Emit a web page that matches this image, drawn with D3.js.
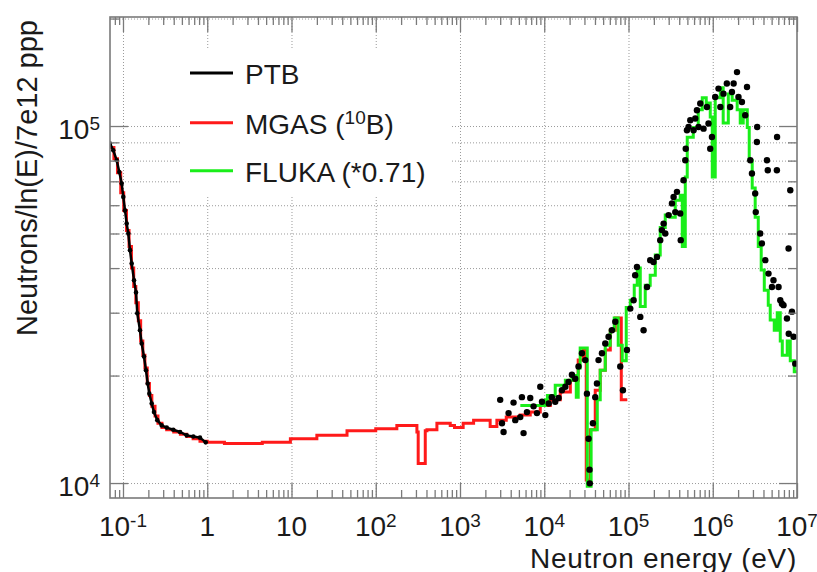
<!DOCTYPE html>
<html>
<head>
<meta charset="utf-8">
<script src="https://cdn.jsdelivr.net/npm/d3@7"></script>
<style>
body { margin: 0; background: #fff; }
text { font-family: "Liberation Sans", Arial, sans-serif; fill: #1a1a1a; }
</style>
</head>
<body>
<svg id="chart"></svg>
<script>
"use strict";

var width  = 817,
    height = 572;

// PTB measurement, thermal part (line + markers)
var ptbLow = [
  [0.0701, 8.93e4], [0.0767, 8.55e4], [0.0842, 8.02e4], [0.0904, 7.43e4], [0.0965, 6.90e4],
  [0.1008, 6.33e4], [0.1056, 5.81e4], [0.1106, 5.33e4], [0.1156, 5.00e4], [0.1211, 4.49e4],
  [0.1268, 4.12e4], [0.1351, 3.70e4], [0.1427, 3.42e4], [0.1478, 2.99e4], [0.159, 2.68e4],
  [0.1667, 2.46e4], [0.1775, 2.26e4], [0.1875, 2.07e4], [0.1965, 1.90e4], [0.2053, 1.78e4],
  [0.2192, 1.67e4], [0.2333, 1.58e4], [0.2553, 1.50e4], [0.288, 1.45e4], [0.330, 1.43e4],
  [0.395, 1.41e4], [0.475, 1.39e4], [0.570, 1.36e4], [0.683, 1.35e4], [0.820, 1.34e4],
  [0.959, 1.30e4]
];

// PTB measurement, fast part (markers)
var ptbHigh = [
  [3.00e3, 1.71e4], [3.15e3, 1.47e4], [3.29e3, 1.39e4], [3.77e3, 1.57e4], [4.32e3, 1.68e4],
  [4.53e3, 1.50e4], [5.19e3, 1.53e4], [5.43e3, 1.74e4], [5.68e3, 1.38e4], [6.23e3, 1.58e4],
  [6.82e3, 1.73e4], [7.47e3, 1.64e4], [8.19e3, 1.57e4], [8.97e3, 1.86e4], [9.40e3, 1.69e4],
  [1.03e4, 1.55e4], [1.13e4, 1.67e4], [1.23e4, 1.74e4], [1.35e4, 1.69e4], [1.48e4, 1.73e4],
  [1.62e4, 1.82e4], [1.78e4, 1.86e4], [1.94e4, 1.92e4], [2.13e4, 2.01e4], [2.33e4, 1.96e4],
  [2.55e4, 2.12e4], [2.80e4, 2.31e4], [3.07e4, 2.21e4], [3.21e4, 1.78e4], [3.36e4, 1.33e4],
  [3.45e4, 1.09e4], [3.47e4, 9.98e3], [3.78e4, 1.47e4], [4.03e4, 1.74e4], [4.22e4, 1.90e4],
  [4.41e4, 2.21e4], [4.84e4, 2.31e4], [5.30e4, 2.46e4], [5.80e4, 2.57e4], [6.36e4, 2.68e4],
  [6.97e4, 2.83e4], [7.98e4, 2.12e4], [8.59e4, 1.82e4], [9.59e4, 2.36e4], [1.05e5, 3.08e4],
  [1.15e5, 3.25e4], [1.20e5, 3.82e4], [1.26e5, 4.03e4], [1.38e5, 2.92e4], [1.51e5, 2.68e4],
  [1.66e5, 3.54e4], [1.81e5, 4.21e4], [1.98e5, 4.16e4], [2.18e5, 4.30e4], [2.38e5, 4.79e4],
  [2.49e5, 5.11e4], [2.61e5, 5.33e4], [2.73e5, 5.00e4], [2.99e5, 5.63e4], [3.28e5, 6.07e4],
  [3.43e5, 6.33e4], [3.59e5, 5.74e4], [3.76e5, 6.54e4], [4.11e5, 5.69e4], [4.17e5, 4.79e4],
  [4.50e5, 7.05e4], [4.72e5, 8.02e4], [4.78e5, 8.64e4], [4.94e5, 9.73e4], [5.16e5, 9.94e4],
  [5.41e5, 1.038e5], [5.92e5, 9.73e4], [6.20e5, 1.05e5], [6.49e5, 1.107e5], [6.78e5, 9.94e4],
  [7.11e5, 1.156e5], [7.78e5, 9.83e4], [8.53e5, 1.13e5], [8.91e5, 1.016e5], [9.33e5, 8.64e4],
  [9.78e5, 9.32e4], [1.07e6, 1.206e5], [1.17e6, 1.273e5], [1.23e6, 1.13e5], [1.34e6, 1.232e5],
  [1.47e6, 1.315e5], [1.61e6, 1.13e5], [1.69e6, 1.245e5], [1.77e6, 1.315e5], [1.94e6, 1.416e5],
  [2.02e6, 1.206e5], [2.22e6, 1.168e5], [2.43e6, 1.072e5], [2.55e6, 1.286e5], [2.79e6, 8.02e4],
  [2.92e6, 7.36e4], [3.19e6, 6.47e4], [3.24e6, 5.74e4], [3.34e6, 9.02e4], [3.37e6, 9.94e4],
  [3.66e6, 5.00e4], [3.83e6, 4.69e4], [4.20e6, 4.21e4], [4.40e6, 8.02e4], [4.50e6, 7.52e4],
  [4.59e6, 3.86e4], [5.04e6, 3.54e4], [5.26e6, 3.70e4], [5.77e6, 7.52e4], [5.80e6, 9.32e4],
  [6.04e6, 3.54e4], [6.33e6, 3.25e4], [6.62e6, 3.18e4], [6.92e6, 3.15e4], [7.60e6, 2.89e4],
  [7.94e6, 4.54e4], [7.98e6, 2.62e4], [8.32e6, 6.61e4], [8.71e6, 3.02e4], [9.10e6, 2.57e4],
  [9.53e6, 2.16e4]
];

// MGAS (10B) unfolded spectrum, histogram bins [lower edge, value]
var mgas = [
  [0.0701, 8.7e4], [0.078, 8.1e4], [0.086, 7.4e4], [0.094, 6.5e4], [0.102, 5.8e4],
  [0.110, 5.1e4], [0.118, 4.6e4], [0.126, 4.0e4], [0.134, 3.55e4], [0.142, 3.2e4],
  [0.152, 2.85e4], [0.162, 2.5e4], [0.172, 2.28e4], [0.182, 2.1e4], [0.194, 1.9e4],
  [0.206, 1.76e4], [0.22, 1.64e4], [0.24, 1.54e4], [0.26, 1.47e4], [0.29, 1.43e4],
  [0.33, 1.41e4], [0.40, 1.39e4], [0.48, 1.37e4], [0.57, 1.35e4], [0.68, 1.33e4],
  [0.82, 1.31e4], [1.0, 1.30e4], [1.6, 1.29e4], [2.46, 1.29e4], [4.5, 1.30e4],
  [9.7, 1.33e4], [20, 1.36e4], [45.6, 1.40e4], [100, 1.42e4], [178, 1.45e4],
  [234, 1.45e4], [308, 1.39e4], [319, 1.135e4], [387, 1.40e4], [405, 1.41e4],
  [532, 1.47e4], [766, 1.45e4], [860, 1.43e4], [1090, 1.47e4], [1450, 1.50e4],
  [2080, 1.50e4], [2280, 1.44e4], [2740, 1.50e4], [3540, 1.53e4], [5190, 1.55e4],
  [6820, 1.58e4], [8970, 1.65e4], [1.18e4, 1.71e4], [1.55e4, 1.80e4], [2.04e4, 1.94e4],
  [2.53e4, 2.21e4], [2.91e4, 2.36e4], [3.15e4, 1.02e4], [3.51e4, 1.41e4], [4.03e4, 1.82e4],
  [4.62e4, 2.07e4], [5.3e4, 2.36e4], [6.08e4, 2.68e4], [6.97e4, 2.90e4], [8.21e4, 1.71e4],
  [9.68e4, 1.71e4]
];

// FLUKA simulation scaled by 0.71, histogram bins [lower edge, value]
var fluka = [
  [5.2e3, 1.65e4], [1.03e4, 1.71e4], [1.09e4, 1.76e4], [1.35e4, 1.88e4], [1.78e4, 1.94e4],
  [2.15e4, 2.0e4], [2.4e4, 1.74e4], [2.53e4, 2.1e4], [2.67e4, 2.39e4], [3.24e4, 9.8e3],
  [3.6e4, 1.41e4], [4.26e4, 1.71e4], [4.62e4, 2.07e4], [5.3e4, 2.43e4], [6.07e4, 2.68e4],
  [6.77e4, 2.9e4], [7.55e4, 2.43e4], [8.43e4, 2.2e4], [9.4e4, 3.1e4], [1.05e5, 3.25e4],
  [1.17e5, 3.58e4], [1.27e5, 4.0e4], [1.38e5, 3.12e4], [1.58e5, 3.58e4], [1.81e5, 3.82e4],
  [2.08e5, 4.35e4], [2.38e5, 5.2e4], [2.73e5, 5.63e4], [3.13e5, 5.55e4], [3.59e5, 6.2e4],
  [4.11e5, 6.4e4], [4.35e5, 4.6e4], [4.72e5, 7.2e4], [4.98e5, 9.3e4], [5.87e5, 9.9e4],
  [6.73e5, 1.11e5], [7.51e5, 1.2e5], [8.37e5, 1.16e5], [9.34e5, 1.06e5], [9.87e5, 7.2e4],
  [1.07e6, 1.2e5], [1.23e6, 1.28e5], [1.33e6, 1.02e5], [1.53e6, 1.23e5], [1.70e6, 1.18e5],
  [1.95e6, 1.11e5], [2.12e6, 1.02e5], [2.30e6, 1.11e5], [2.57e6, 9.9e4], [2.71e6, 8.0e4],
  [2.94e6, 6.7e4], [3.19e6, 5.55e4], [3.47e6, 4.6e4], [3.76e6, 3.95e4], [4.09e6, 3.47e4],
  [4.56e6, 3.15e4], [4.81e6, 2.86e4], [5.37e6, 2.68e4], [5.83e6, 3.0e4], [6.33e6, 2.5e4],
  [6.69e6, 2.28e4], [7.66e6, 2.5e4], [8.32e6, 2.2e4], [9.28e6, 2.05e4], [1e7, 2.05e4]
];

var xMajor     = [0.1, 1, 10, 1e2, 1e3, 1e4, 1e5, 1e6, 1e7],
    xTickBase  = ["10", "1", "10", "10", "10", "10", "10", "10", "10"],
    xTickExp   = ["-1", "", "", "2", "3", "4", "5", "6", "7"];
var yMajor     = [1e4, 1e5],
    yTickBase  = ["10", "10"],
    yTickExp   = ["4", "5"];

var legendNames = ["PTB", "MGAS (", "FLUKA (*0.71)"],
    legendSup   = ["", "10", ""],
    legendTail  = ["", "B)", ""],
    legendColors = ["#000000", "#ff1a1a", "#1aee1a"];

// Setup
var frame = {x0: 110, x1: 797, y0: 17, y1: 498};

var chart = d3.select("#chart")
              .attr("width", width)
              .attr("height", height);

var x = d3.scaleLog().domain([0.0701, 1e7]).range([frame.x0, frame.x1]);
var y = d3.scaleLog().domain([9.08e3, 2.02e5]).range([frame.y1, frame.y0]);

// minor ticks 2..9 of every decade inside the domain
function minors(scale) {
    var d = scale.domain(), out = [];
    for (var e = Math.floor(Math.log10(d[0])); e <= Math.ceil(Math.log10(d[1])); e++) {
        for (var m = 2; m <= 9; m++) {
            var v = m * Math.pow(10, e);
            if (v >= d[0] && v <= d[1]) out.push(v);
        }
    }
    return out;
}
var xMinor = minors(x),
    yMinor = minors(y);

// grid
function styleGrid(g) {
    g.select(".domain").remove();
    g.selectAll("line").attr("stroke", "#9a9a9a").attr("stroke-width", 1)
     .attr("stroke-dasharray", "1,2");
}
chart.append("g")
     .attr("transform", "translate(0," + frame.y1 + ")")
     .call(d3.axisBottom(x).tickValues(xMajor.slice(0, -1)).tickSize(-(frame.y1 - frame.y0)).tickFormat(""))
     .call(styleGrid);
chart.append("g")
     .attr("transform", "translate(" + frame.x0 + ",0)")
     .call(d3.axisLeft(y).tickValues(yMajor.concat(yMinor)).tickSize(-(frame.x1 - frame.x0)).tickFormat(""))
     .call(styleGrid);

// legend box hides the grid behind it
chart.append("rect")
     .attr("x", 180).attr("y", 48)
     .attr("width", 272).attr("height", 148)
     .attr("fill", "#fff");

// data
chart.append("clipPath").attr("id", "plotclip")
     .append("rect")
     .attr("x", frame.x0).attr("y", frame.y0)
     .attr("width", frame.x1 - frame.x0).attr("height", frame.y1 - frame.y0);

var plot = chart.append("g").attr("clip-path", "url(#plotclip)");

var stepLine = d3.line()
                 .x(function(d) { return x(d[0]); })
                 .y(function(d) { return y(d[1]); })
                 .curve(d3.curveStepAfter);
var plainLine = d3.line()
                  .x(function(d) { return x(d[0]); })
                  .y(function(d) { return y(d[1]); });

plot.append("path")
    .datum(mgas)
    .attr("d", stepLine)
    .attr("fill", "none")
    .attr("stroke", legendColors[1])
    .attr("stroke-width", 3);

plot.append("path")
    .datum(fluka)
    .attr("d", stepLine)
    .attr("fill", "none")
    .attr("stroke", legendColors[2])
    .attr("stroke-width", 3);

plot.append("path")
    .datum(ptbLow)
    .attr("d", plainLine)
    .attr("fill", "none")
    .attr("stroke", "#000")
    .attr("stroke-width", 2.5);

plot.selectAll("circle.low")
    .data(ptbLow)
    .enter().append("circle")
        .attr("class", "low")
        .attr("cx", function(d) { return x(d[0]); })
        .attr("cy", function(d) { return y(d[1]); })
        .attr("r", 2.3)
        .attr("fill", "#000");

plot.selectAll("circle.high")
    .data(ptbHigh)
    .enter().append("circle")
        .attr("class", "high")
        .attr("cx", function(d) { return x(d[0]); })
        .attr("cy", function(d) { return y(d[1]); })
        .attr("r", 3.2)
        .attr("fill", "#000");

// axes ticks, ROOT style (inside, on all four sides)
function styleTicks(g) {
    g.select(".domain").remove();
    g.selectAll("line").attr("stroke", "#7a7a7a").attr("stroke-width", 1.3);
}
var tickSets = [
    [d3.axisBottom(x), "translate(0," + frame.y1 + ")", xMajor, xMinor, 15, 8],
    [d3.axisTop(x),    "translate(0," + frame.y0 + ")", xMajor, xMinor, 15, 8],
    [d3.axisLeft(y),   "translate(" + frame.x0 + ",0)", yMajor, yMinor, 18, 9],
    [d3.axisRight(y),  "translate(" + frame.x1 + ",0)", yMajor, yMinor, 18, 9]
];
tickSets.forEach(function(t) {
    chart.append("g").attr("transform", t[1])
         .call(t[0].tickValues(t[2]).tickSize(-t[4]).tickFormat("")).call(styleTicks);
    chart.append("g").attr("transform", t[1])
         .call(t[0].tickValues(t[3]).tickSize(-t[5]).tickFormat("")).call(styleTicks);
});

chart.append("rect")
     .attr("x", frame.x0).attr("y", frame.y0)
     .attr("width", frame.x1 - frame.x0).attr("height", frame.y1 - frame.y0)
     .attr("fill", "none")
     .attr("stroke", "#7a7a7a")
     .attr("stroke-width", 1.6);

// tick labels
var xl = chart.selectAll("text.xlab")
    .data(xMajor)
    .enter().append("text")
        .attr("class", "xlab")
        .attr("x", function(d) { return x(d); })
        .attr("y", 535.5)
        .attr("text-anchor", "middle")
        .attr("font-size", 28);
xl.append("tspan").text(function(d, i) { return xTickBase[i]; });
xl.append("tspan")
  .attr("font-size", 19)
  .attr("dy", -9)
  .text(function(d, i) { return xTickExp[i]; });

var yl = chart.selectAll("text.ylab")
    .data(yMajor)
    .enter().append("text")
        .attr("class", "ylab")
        .attr("x", 100)
        .attr("y", function(d) { return y(d) + 13; })
        .attr("text-anchor", "end")
        .attr("font-size", 28);
yl.append("tspan").text(function(d, i) { return yTickBase[i]; });
yl.append("tspan")
  .attr("font-size", 19)
  .attr("dy", -9)
  .text(function(d, i) { return yTickExp[i]; });

// axis titles
chart.append("text")
     .attr("x", frame.x1)
     .attr("y", 567.5)
     .attr("text-anchor", "end")
     .attr("font-size", 28)
     .attr("letter-spacing", 0.7)
     .text("Neutron energy (eV)");

chart.append("text")
     .attr("transform", "translate(37," + 20 + ") rotate(-90)")
     .attr("text-anchor", "end")
     .attr("font-size", 29)
     .text("Neutrons/ln(E)/7e12 ppp");

// legend
var legendY = [73, 122.7, 170.7];
var entry = chart.selectAll("g.legend")
    .data(legendNames)
    .enter().append("g")
        .attr("class", "legend")
        .attr("transform", function(d, i) { return "translate(0," + legendY[i] + ")"; });

entry.append("line")
     .attr("x1", 190).attr("x2", 233)
     .attr("stroke", function(d, i) { return legendColors[i]; })
     .attr("stroke-width", 3);

var lt = entry.append("text")
     .attr("x", 245)
     .attr("y", 11)
     .attr("font-size", 28);
lt.append("tspan").text(function(d) { return d; });
lt.append("tspan")
  .attr("font-size", 19)
  .attr("dy", -10)
  .text(function(d, i) { return legendSup[i]; });
lt.append("tspan")
  .attr("dy", 10)
  .text(function(d, i) { return legendTail[i]; });
</script>
</body>
</html>
